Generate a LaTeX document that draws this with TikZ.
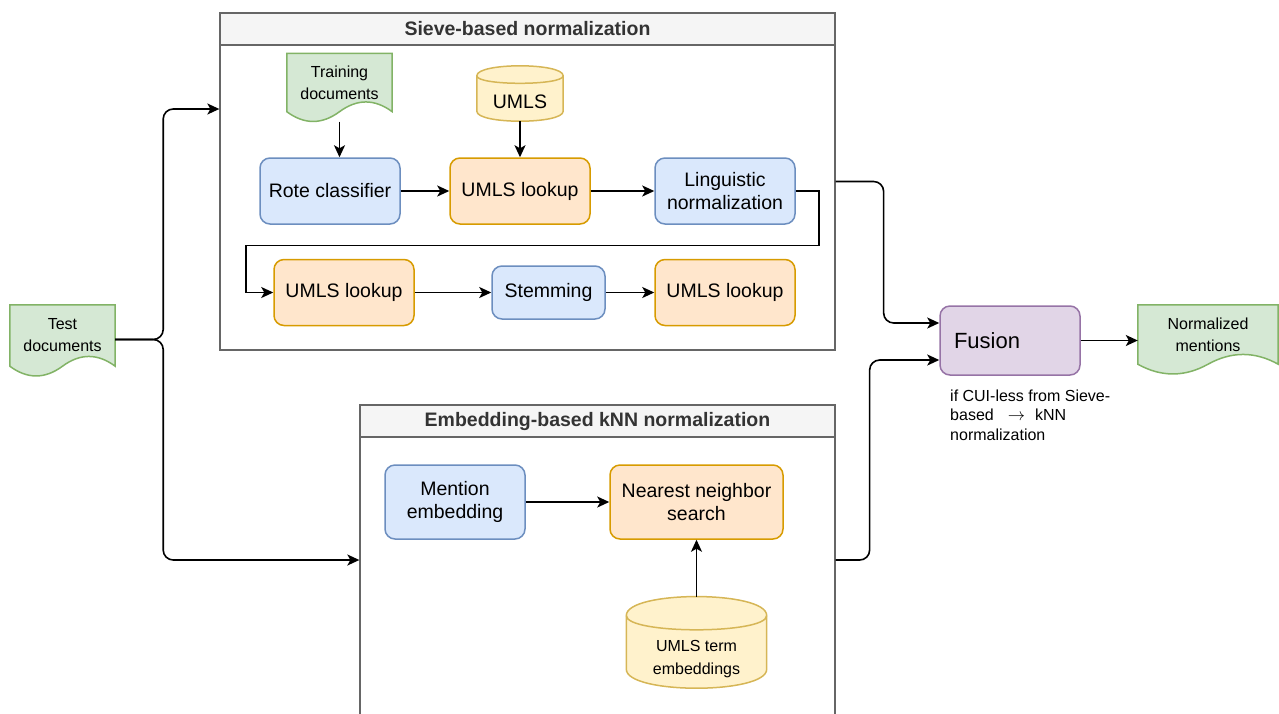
\documentclass[tikz,border=0pt]{standalone}
\usepackage{fontspec}
\setmainfont{Liberation Sans}
\usepackage{tikz}
\usetikzlibrary{arrows.meta,calc,backgrounds}
\usepackage{xcolor}

\definecolor{bluefill}{HTML}{DAE8FC}
\definecolor{blueline}{HTML}{6C8EBF}
\definecolor{orangefill}{HTML}{FFE6CC}
\definecolor{orangeline}{HTML}{D79B00}
\definecolor{yellowfill}{HTML}{FFF2CC}
\definecolor{yellowline}{HTML}{D6B656}
\definecolor{greenfill}{HTML}{D5E8D4}
\definecolor{greenline}{HTML}{82B366}
\definecolor{purplefill}{HTML}{E1D5E7}
\definecolor{purpleline}{HTML}{9673A6}
\definecolor{lanefill}{HTML}{F5F5F5}
\definecolor{laneline}{HTML}{666666}
\definecolor{lanetext}{HTML}{333333}

% document outline with wavy bottom, drawn round a named node
\newcommand{\docshape}[1]{%
  \path[docline] (#1.north west) -- (#1.north east) -- (#1.south east)
    .. controls ($(#1.south east)!1/3!(#1.south)+(0,-13)$) and ($(#1.south)!1/3!(#1.south east)+(0,-13)$) .. (#1.south)
    .. controls ($(#1.south)!1/3!(#1.south west)+(0,13)$) and ($(#1.south west)!1/3!(#1.south)+(0,13)$) .. (#1.south west)
    -- cycle;}

% database cylinder, drawn round a named node
\newcommand{\cylshape}[2]{%
  \path[cylline] ($(#1.north west)+(0,{-0.75*#2})$)
    .. controls ($(#1.north west)+(0,{-2.083*#2})$) and ($(#1.north east)+(0,{-2.083*#2})$) .. ($(#1.north east)+(0,{-0.75*#2})$)
    -- ($(#1.south east)+(0,{-#2})$)
    .. controls ($(#1.south east)+(0,{#2/3})$) and ($(#1.south west)+(0,{#2/3})$) .. ($(#1.south west)+(0,{-#2})$)
    -- cycle;
  \draw[cylline, fill=none] ($(#1.north west)+(0,{-0.75*#2})$)
    .. controls ($(#1.north west)+(0,{0.25*#2})$) and ($(#1.north east)+(0,{0.25*#2})$) .. ($(#1.north east)+(0,{-0.75*#2})$);}

\begin{document}
\begin{tikzpicture}[x=1pt,y=-1pt,
  proc/.style={rounded corners=10pt, line width=1.5pt, minimum width=140pt, minimum height=66pt,
    align=center, font=\fontsize{19.5}{23}\selectfont},
  blueproc/.style={proc, draw=blueline, fill=bluefill},
  orangeproc/.style={proc, draw=orangeline, fill=orangefill},
  purpleproc/.style={proc, draw=purpleline, fill=purplefill},
  docbox/.style={align=center, inner sep=0pt, font=\fontsize{16}{22}\selectfont},
  docline/.style={draw=greenline, fill=greenfill, line width=1.5pt},
  cylbox/.style={align=center, inner sep=0pt, font=\fontsize{16}{23}\selectfont},
  cylline/.style={draw=yellowline, fill=yellowfill, line width=1.5pt},
  lane/.style={draw=laneline, line width=1.3pt},
  lanehead/.style={draw=laneline, fill=lanefill, line width=1.3pt, minimum height=32pt,
    text=lanetext, font=\bfseries\fontsize{19.5}{22}\selectfont},
  flow/.style={line width=1.6pt, -{Stealth[length=12pt, width=11pt, inset=3pt]}},
  notetext/.style={align=left, inner sep=0pt, font=\fontsize{16}{19.5}\selectfont}]

\useasboundingbox (0,0) rectangle (1279,713);
\clip (0,0) rectangle (1279,713);

% Containers
\node[lane, minimum width=615pt, minimum height=337pt] (sieve) at (527.5,181.5) {};
\node[lanehead, minimum width=615pt, anchor=north] (sievehead) at (sieve.north) {Sieve-based normalization};
\node[lane, minimum width=475pt, minimum height=310pt] (embed) at (597.5,560) {};
\node[lanehead, minimum width=475pt, anchor=north] (embedhead) at (embed.north) {Embedding-based kNN normalization};

% Documents
\node[docbox, minimum width=105pt, minimum height=61pt] (test) at (62.5,335.5) {Test\\documents};
\node[docbox, minimum width=105pt, minimum height=58pt] (train) at (339.5,82.5) {Training\\documents};
\node[docbox, minimum width=140pt, minimum height=59pt] (normalized) at (1208,334.5) {Normalized\\mentions};

% Databases
\node[cylbox, minimum width=86pt, minimum height=37.5pt, font=\fontsize{19.5}{23}\selectfont] (umls) at (520,102.25) {UMLS};
\node[cylbox, minimum width=140pt, minimum height=58pt] (umlsemb) at (696.5,659) {UMLS term\\embeddings};

% Steps
\node[blueproc] (rote) at (330,191) {Rote classifier};
\node[orangeproc] (lookupa) at (520,191) {UMLS lookup};
\node[blueproc] (ling) at (725,191) {Linguistic\\normalization};
\node[orangeproc] (lookupb) at (344,292.5) {UMLS lookup};
\node[blueproc, minimum width=113pt, minimum height=53pt] (stem) at (548.5,292.5) {Stemming};
\node[orangeproc] (lookupc) at (725,292.5) {UMLS lookup};
\node[blueproc, minimum height=74pt] (mention) at (455,502) {Mention\\embedding};
\node[orangeproc, minimum width=173pt, minimum height=74pt] (nn) at (696.5,502) {Nearest neighbor\\search};
\node[purpleproc, minimum height=69pt, text width=112pt, inner xsep=14pt, align=left,
  font=\fontsize{22}{26}\selectfont] (fusion) at (1010,340.5) {Fusion};

% Note
\node[notetext, anchor=west] (note) at (950,415)
  {if CUI-less from Sieve-\\based\hspace{14pt}$\rightarrow$\hspace{10pt}kNN\\normalization};

% Outlines behind the texts
\begin{scope}[on background layer]
\docshape{test}
\docshape{train}
\docshape{normalized}
\cylshape{umls}{10}
\cylshape{umlsemb}{19}
\end{scope}

% Flow
\draw[flow] ([yshift=-10pt]train.south) -- (train.south |- rote.north);
\draw[flow] (umls) -- (lookupa);
\draw[flow] (rote) -- (lookupa);
\draw[flow] (lookupa) -- (ling);
\draw[flow] (ling.east) -- ++(23,0) |- ($(lookupb.west)+(-27,-47)$) |- (lookupb.west);
\draw[flow] (lookupb) -- (stem);
\draw[flow] (stem) -- (lookupc);
\draw[flow] (mention) -- (nn);
\draw[flow] ([yshift=33pt]umlsemb.north) -- (nn.south);
\draw[flow] (fusion.east) -- (fusion.east -| normalized.west);

% Branches
\draw[flow, rounded corners=10pt] ([yshift=-4pt]test.east) -- ++(48,0) |- ([yshift=72.5pt]sieve.west);
\draw[flow, rounded corners=10pt] ([yshift=-4pt]test.east) -- ++(48,0) |- (embed.west);
\draw[flow, rounded corners=10pt] (sieve.east) -- ++(48,0) |- ([yshift=17.5pt]fusion.west);
\draw[flow, rounded corners=10pt] (embed.east) -- ++(34,0) |- ([yshift=-19.5pt]fusion.west);

\end{tikzpicture}
\end{document}
